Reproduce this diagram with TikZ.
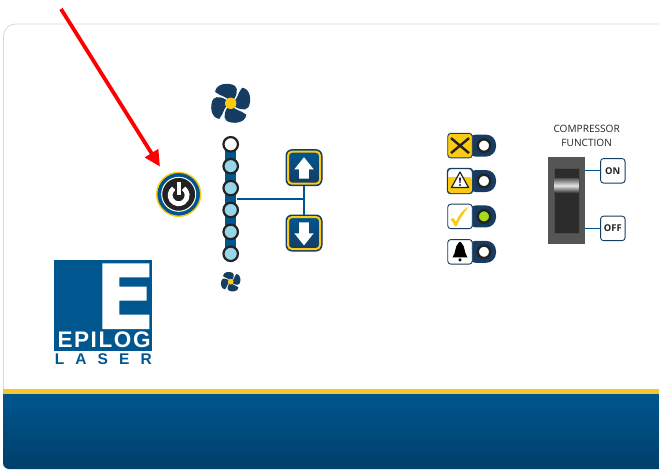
\documentclass[tikz,border=0pt]{standalone}
\usepackage{fontspec}
\setmainfont{Open Sans}
\newfontfamily\logofont{Liberation Sans}
\usetikzlibrary{shapes,arrows.meta,positioning,calc}
\definecolor{epilogblue}{HTML}{00568F}
\definecolor{deepblue}{HTML}{003F6B}
\definecolor{navy}{HTML}{163C62}
\definecolor{gold}{HTML}{FBCB14}
\definecolor{bandgold}{HTML}{F6C62C}
\definecolor{ledblue}{HTML}{96D6E8}
\definecolor{ledgreen}{HTML}{A6DC1E}
\definecolor{ringdark}{HTML}{232323}
\definecolor{switchgrey}{HTML}{555555}
\definecolor{slotdark}{HTML}{2C2C2C}

\begin{document}
\begin{tikzpicture}[
    x=1pt, y=-1pt,
    on grid,
    node distance=21.9pt, % distance between nodes
    striped/.style={rectangle, fill=epilogblue, minimum width=11.5pt, minimum height=110pt, inner sep=0pt},
    led/.style={circle, draw=ringdark, line width=2.2pt, fill=ledblue, minimum size=14.5pt, inner sep=0pt},
    btnframe/.style={rectangle, draw=navy, line width=1pt, fill=navy, rounded corners=6pt, minimum size=36pt, inner sep=0pt},
    btnface/.style={rectangle, draw=gold, line width=2pt, top color=navy, bottom color=epilogblue, shading angle=180, rounded corners=4pt, minimum size=32pt, inner sep=0pt},
    btnglyph/.style={fill=white},
    ledpill/.style={rectangle, fill=navy, rounded corners=10pt, minimum width=30pt, minimum height=22pt, inner sep=0pt},
    statusled/.style={circle, draw=ringdark, line width=2.4pt, fill=white, minimum size=12.5pt, inner sep=0pt},
    statusbox/.style={rectangle, draw=navy, line width=0.9pt, fill=white, rounded corners=3pt, minimum size=24.5pt, inner sep=0pt},
    tagbox/.style={rectangle, draw=navy, line width=0.9pt, fill=white, rounded corners=3pt, minimum size=24.5pt, inner sep=0pt, font=\bfseries\fontsize{9.4}{10}\selectfont, text=ringdark},
    link/.style={draw=epilogblue, line width=1.2pt},
    redarrow/.style={-{Triangle[length=16pt,width=15pt]}, draw=red, line width=3.8pt},
    pics/fan/.style={code={
        \foreach \a in {0,90,180,270}
            \fill[navy, rotate=\a] (0,0) .. controls (-.05,-.35) and (-.55,-.35) .. (-.82,-.6) .. controls (-.78,-1.05) and (-.1,-1.12) .. (.22,-.92) .. controls (.44,-.75) and (.3,-.3) .. (0,0) -- cycle;
        \fill[gold] (0,0) circle (.3);
    }}
]
    \useasboundingbox (0,0) rectangle (659,469);

    % Panel
    \draw[black!15, line width=0.8pt] (659,24) [rounded corners=12pt] -- (3.5,24) [sharp corners] -- (3.5,390);
    \fill[bandgold] (3,389) rectangle (659,394);
    \shade[top color=epilogblue, bottom color=deepblue] (3,394) [rounded corners=6pt] -- (3,469) [sharp corners] -- (659,469) -- (659,394) -- cycle;

    % Logo
    \node[rectangle, fill=epilogblue, minimum width=98pt, minimum height=90.5pt, inner sep=0pt] (logo) at (103.3,305.3) {};
    \fill[white] (102.3,263.3) -- (149.3,263.3) -- (149.3,277.3) -- (119.3,277.3) -- (119.3,286.7) -- (146.7,286.7) -- (146.7,300.7) -- (119.3,300.7) -- (119.3,314.5) -- (149.3,314.5) -- (149.3,329) -- (102.3,329) -- cycle;
    \node[text=white, text width=93pt, align=justify, inner sep=0pt, font=\logofont\bfseries\fontsize{22.5}{22}\selectfont] (epilog) at (104,340) {E\hfill P\hfill I\hfill L\hfill O\hfill G};
    \node[text=epilogblue, text width=97pt, align=justify, inner sep=0pt, font=\logofont\bfseries\fontsize{15.5}{15}\selectfont] (laser) at (103.3,359) {L\hfill A\hfill S\hfill E\hfill R};

    % Power button
    \node[circle, draw=gold, line width=1.4pt, fill=epilogblue, minimum size=44pt, inner sep=0pt] (power) at (178.7,194.3) {};
    \node[circle, draw=white, line width=1pt, fill=ringdark, minimum size=34pt, inner sep=0pt] (powercore) at (power.center) {};
    \draw[white, line width=4.8pt, shift={(power)}] (-4.9,-6) arc[start angle=125, delta angle=290, radius=8.5pt];
    \draw[ringdark, line width=6.5pt, shift={(power)}] (0,-13) -- (0,2);
    \draw[white, line width=4pt, shift={(power)}] (0,-12.5) -- (0,1);

    % Fans
    \pic[scale=19] (fanhigh) at (230.7,103.3) {fan};
    \pic[scale=9.5] (fanlow) at (230.7,281.7) {fan};

    % Speed strip
    \node[striped] (strip) at (230.7,199) {};
    \node[led, fill=white] (L1) at (230.7,144.3) {};
    \node[led, below=of L1] (L2) {};
    \node[led, below=of L2] (L3) {};
    \node[led, below=of L3] (L4) {};
    \node[led, below=of L4] (L5) {};
    \node[led, below=of L5] (L6) {};

    % Speed buttons
    \node[btnframe] (upframe) at (304,167.7) {};
    \node[btnface] (upbtn) at (upframe.center) {};
    \fill[btnglyph, shift={(upbtn)}] (0,-10.4) -- (9.7,1.6) -- (4.8,1.6) -- (4.8,11) -- (-4.8,11) -- (-4.8,1.6) -- (-9.7,1.6) -- cycle;
    \node[btnframe, below=65.3pt of upframe] (downframe) {};
    \node[btnface] (downbtn) at (downframe.center) {};
    \fill[btnglyph, shift={(downbtn)}] (0,12.4) -- (9.7,.3) -- (4.8,.3) -- (4.8,-10.7) -- (-4.8,-10.7) -- (-4.8,.3) -- (-9.7,.3) -- cycle;

    % Status lights
    \node[ledpill] (faultpill) at (481,145.6) {};
    \node[statusled, right=3pt of faultpill] (faultled) {};
    \node[statusbox, left=21pt of faultpill, fill=gold] (fault) {};
    \draw[ringdark, line width=2.4pt, shift={(fault)}] (-9,-7.5) -- (9,7.5) (9,-7.5) -- (-9,7.5);

    \node[ledpill, below=35.4pt of faultpill] (warnpill) {};
    \node[statusled, right=3pt of warnpill] (warnled) {};
    \node[statusbox, left=21pt of warnpill] (warn) {};
    \fill[gold, shift={(warn)}, rounded corners=2.5pt] (-11.8,-4) -- (-11.8,11.8) -- (11.8,11.8) -- (11.8,-4) [sharp corners] -- cycle;
    \draw[navy, line width=0.9pt, rounded corners=3pt] (warn.north west) rectangle (warn.south east);
    \draw[ringdark, fill=white, line width=1.2pt, line join=round, shift={(warn)}] (0,-9) -- (8.5,6.5) -- (-8.5,6.5) -- cycle;
    \fill[ringdark, shift={(warn)}] (-1,-3.5) -- (1,-3.5) -- (.5,2) -- (-.5,2) -- cycle (0,4) circle (1.1);

    \node[ledpill, below=35.4pt of warnpill] (readypill) {};
    \node[statusled, right=3pt of readypill, fill=ledgreen] (readyled) {};
    \node[statusbox, left=21pt of readypill] (ready) {};
    \fill[gold, shift={(ready)}] (-9.5,3) -- (-7,1.5) .. controls (-6,2.5) and (-5,4) .. (-4,5.5) .. controls (-1,-2) and (3,-7) .. (9,-9.8) .. controls (3,-3) and (-1,4) .. (-3.5,10) -- (-5,10) .. controls (-6,7.5) and (-7.5,5) .. (-9.5,3) -- cycle;

    \node[ledpill, below=35.4pt of readypill] (alarmpill) {};
    \node[statusled, right=3pt of alarmpill] (alarmled) {};
    \node[statusbox, left=21pt of alarmpill] (alarm) {};
    \fill[black, shift={(alarm)}] (0,-10) .. controls (1.5,-10) and (1.5,-8.5) .. (2,-8) .. controls (5,-6) and (4,1) .. (7.5,5.5) -- (-7.5,5.5) .. controls (-4,1) and (-5,-6) .. (-2,-8) .. controls (-1.5,-8.5) and (-1.5,-10) .. (0,-10) -- cycle;
    \fill[black, shift={(alarm)}] (0,8) circle (1.7);

    % Compressor switch
    \node[align=center, inner sep=0pt, text=ringdark, font=\fontsize{10.1}{14}\selectfont] (comptitle) at (586.7,136) {COMPRESSOR\\FUNCTION};
    \node[rectangle, fill=switchgrey, minimum width=37.3pt, minimum height=86.7pt, inner sep=0pt] (switch) at (566.3,200.7) {};
    \node[rectangle, fill=slotdark, draw=black!70, line width=0.5pt, minimum width=25pt, minimum height=64.6pt, inner sep=0pt] (slot) at (switch.center) {};
    \node[rectangle, top color=switchgrey, bottom color=slotdark, middle color=white!90!black, minimum width=24pt, minimum height=15pt, inner sep=0pt, below=9.7pt of slot.north] (thumb) {};
    \node[tagbox] (onbox) at (612.8,170.8) {ON};
    \node[tagbox, below=57.6pt of onbox] (offbox) {OFF};

    % Connections
    \draw[link] (strip.east) -- (strip -| upbtn);
    \draw[link] (upframe) -- (downframe);
    \draw[link] (onbox) -- (onbox -| switch.east);
    \draw[link] (offbox) -- (offbox -| switch.east);

    % Red pointer
    \coordinate (pointerstart) at (61,9);
    \coordinate (pointertip) at (160,166.7);
    \draw[redarrow] (pointerstart) -- (pointertip);
\end{tikzpicture}
\end{document}
